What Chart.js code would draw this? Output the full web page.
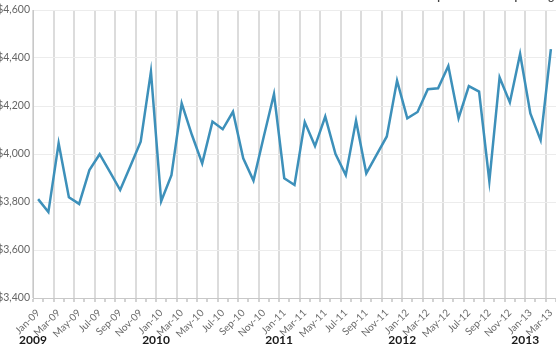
<!DOCTYPE html>
<html>
<head>
<meta charset="utf-8">
<script src="https://cdn.jsdelivr.net/npm/chart.js@4.4.1/dist/chart.umd.min.js"></script>
<style>
    html, body { margin: 0; padding: 0; background: #fff; }
    .chart-box { position: relative; width: 556px; height: 355px; }
</style>
</head>
<body>
<div class="chart-box"><canvas id="spendChart"></canvas></div>
<script>
// 月份标签
const months = [
    'Jan-09', 'Feb-09', 'Mar-09', 'Apr-09', 'May-09', 'Jun-09', 'Jul-09', 'Aug-09', 'Sep-09', 'Oct-09', 'Nov-09', 'Dec-09',
    'Jan-10', 'Feb-10', 'Mar-10', 'Apr-10', 'May-10', 'Jun-10', 'Jul-10', 'Aug-10', 'Sep-10', 'Oct-10', 'Nov-10', 'Dec-10',
    'Jan-11', 'Feb-11', 'Mar-11', 'Apr-11', 'May-11', 'Jun-11', 'Jul-11', 'Aug-11', 'Sep-11', 'Oct-11', 'Nov-11', 'Dec-11',
    'Jan-12', 'Feb-12', 'Mar-12', 'Apr-12', 'May-12', 'Jun-12', 'Jul-12', 'Aug-12', 'Sep-12', 'Oct-12', 'Nov-12', 'Dec-12',
    'Jan-13', 'Feb-13', 'Mar-13'
];

// 每户支出
const spending = [
    3812, 3758, 4045, 3820, 3792, 3933, 3999, 3926, 3850, 3950, 4051, 4343,
    3803, 3912, 4211, 4079, 3961, 4135, 4103, 4176, 3982, 3889, 4072, 4250,
    3899, 3871, 4133, 4033, 4156, 4000, 3912, 4139, 3919, 3996, 4073, 4306,
    4149, 4175, 4270, 4274, 4367, 4149, 4283, 4260, 3887, 4319, 4215, 4417,
    4169, 4058, 4437
];

const yRange = [3400, 4600];
const yStep = 200;
const chartTitle = 'per household spending';

// 年份标签（画在一月的位置下方）
const yearLabelsPlugin = {
    id: 'yearLabels',
    afterDraw(chart) {
        const x = chart.scales.x;
        const ctx = chart.ctx;
        const half = (x.getPixelForValue(1) - x.getPixelForValue(0)) / 2;
        ctx.save();
        ctx.font = 'bold 12px Lato';
        ctx.fillStyle = '#1a1a1a';
        ctx.textAlign = 'center';
        ctx.textBaseline = 'middle';
        months.forEach((m, i) => {
            if (m.startsWith('Jan')) {
                ctx.fillText('20' + m.slice(4), x.getPixelForValue(i) - half, 340);
            }
        });
        // 右上角被裁掉的标题
        ctx.font = 'bold 11px Lato';
        ctx.fillStyle = '#444';
        ctx.textAlign = 'right';
        ctx.textBaseline = 'bottom';
        ctx.fillText(chartTitle, chart.width - 2, 2);
        ctx.restore();
    }
};

document.addEventListener('DOMContentLoaded', () => {
    const ctx = document.getElementById('spendChart').getContext('2d');

    new Chart(ctx, {
        type: 'line',
        data: {
            labels: months,
            datasets: [{
                data: spending,
                borderColor: '#3d90ba',
                borderWidth: 2.5,
                pointRadius: 0,
                tension: 0,
                fill: false
            }]
        },
        options: {
            responsive: true,
            maintainAspectRatio: false,
            animation: false,
            layout: { padding: { top: 10, right: 0, left: 0, bottom: 0 } },
            plugins: {
                legend: { display: false },
                tooltip: { enabled: false }
            },
            scales: {
                x: {
                    offset: true,
                    grid: {
                        offset: true,
                        lineWidth: 2,
                        color: (c) => c.index % 2 === 0 ? '#dcdcdc' : 'rgba(0,0,0,0)',
                        tickColor: '#d2d2d2',
                        tickLength: 4
                    },
                    border: { color: '#c8c8c8', width: 1 },
                    ticks: {
                        autoSkip: false,
                        minRotation: 45,
                        maxRotation: 45,
                        padding: 5,
                        color: '#6b6b6b',
                        font: { family: 'Lato', size: 10 },
                        callback: (v, i) => i % 2 === 0 ? months[i] : ''
                    },
                    afterFit: (s) => {
                        s.height = 57;
                        s.paddingLeft = 0;
                        s.paddingRight = 0;
                    }
                },
                y: {
                    min: yRange[0],
                    max: yRange[1],
                    grid: { color: '#ececec', lineWidth: 1, drawTicks: false },
                    border: { color: '#c8c8c8', width: 1 },
                    ticks: {
                        stepSize: yStep,
                        padding: 3,
                        color: '#666',
                        font: { family: 'Lato', size: 10.5 },
                        callback: (v) => '$' + v.toLocaleString('en-US')
                    },
                    afterFit: (s) => { s.width = 33; }
                }
            }
        },
        plugins: [yearLabelsPlugin]
    });
});
</script>
</body>
</html>
